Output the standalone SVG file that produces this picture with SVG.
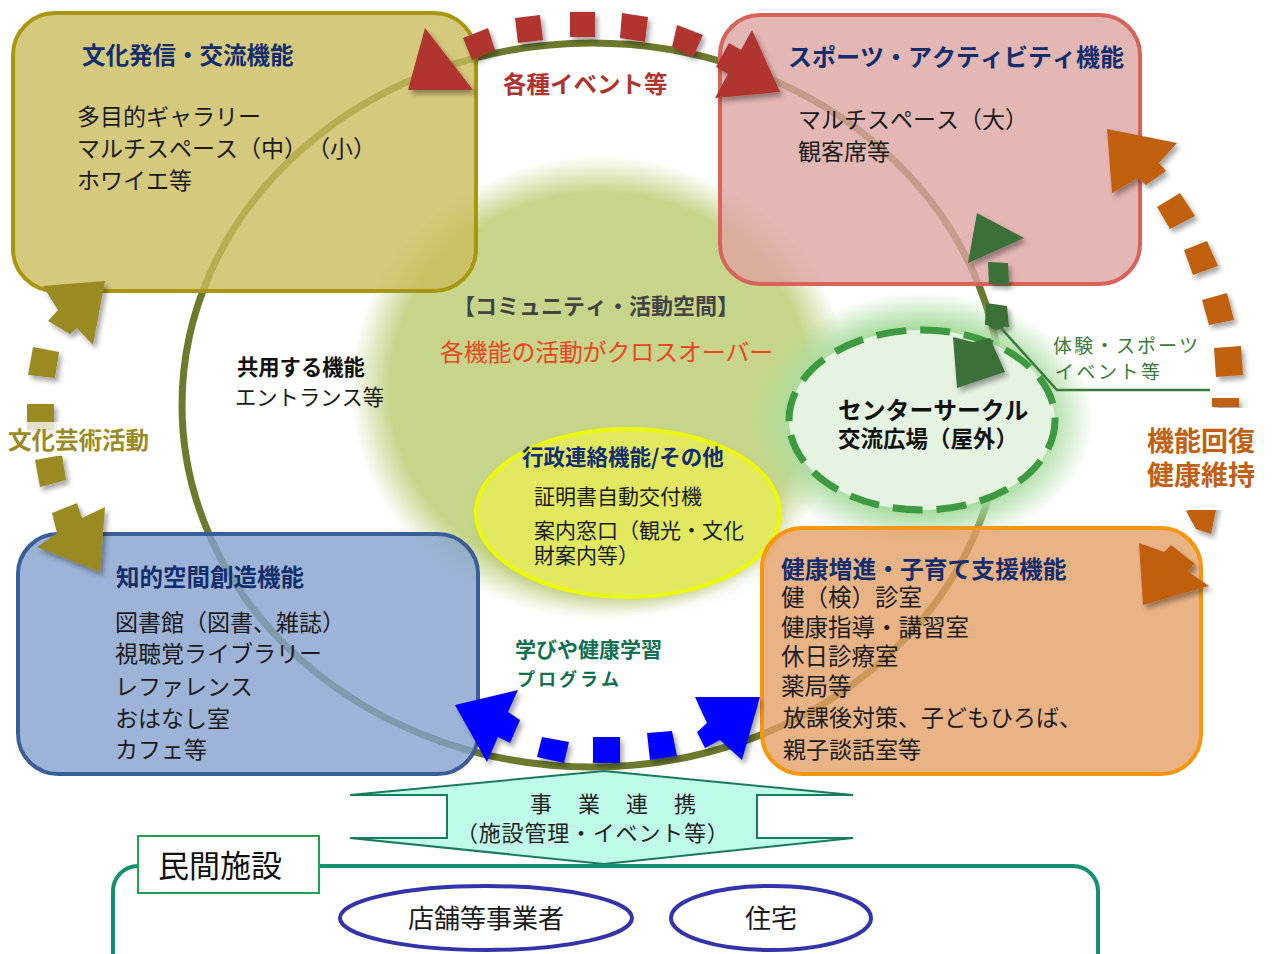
<svg xmlns="http://www.w3.org/2000/svg" width="1273" height="954" viewBox="0 0 1273 954">
<defs>
<radialGradient id="gGlow" cx="0.5" cy="0.5" r="0.5">
<stop offset="0" stop-color="#c6d589"/>
<stop offset="0.84" stop-color="#c6d589"/>
<stop offset="1" stop-color="#c6d589" stop-opacity="0"/>
</radialGradient>
<radialGradient id="cGlow" cx="0.5" cy="0.5" r="0.5">
<stop offset="0" stop-color="#a9dca0"/>
<stop offset="0.72" stop-color="#a9dca0"/>
<stop offset="1" stop-color="#a9dca0" stop-opacity="0"/>
</radialGradient>
<filter id="sh" x="-30%" y="-30%" width="170%" height="170%">
<feDropShadow dx="3" dy="4" stdDeviation="2.5" flood-color="#000" flood-opacity="0.35"/>
</filter>
<filter id="blur8" x="-30%" y="-30%" width="160%" height="160%">
<feGaussianBlur stdDeviation="8"/>
</filter>
<style>
.t{font-family:'Noto Sans CJK JP','Noto Sans CJK SC',sans-serif;text-spacing-trim:space-all;font-kerning:none}
.b{font-weight:bold}
.box{stroke-width:4}
</style>
</defs>
<rect width="1273" height="954" fill="#ffffff"/>
<g font-size="23" fill="#1a1a1a">

<!-- background glows -->
<g id="community-space">
<ellipse cx="600" cy="388" rx="250" ry="232" fill="url(#gGlow)"/>
</g>

<!-- main ring connector -->
<g id="connectors">
<ellipse cx="592" cy="405" rx="410" ry="362" fill="none" stroke="#6b7a2c" stroke-width="7"/>
</g>

<!-- yellow admin ellipse -->
<g id="admin">
<ellipse cx="630" cy="522" rx="150" ry="80" fill="#9fb55a" opacity="0.5" filter="url(#blur8)"/>
<ellipse cx="628" cy="513" rx="152" ry="84" fill="#e1e961" stroke="#ecf80a" stroke-width="4"/>
<text class="t b" x="522" y="465" font-size="21.5" fill="#102d6e">行政連絡機能/その他</text>
<text class="t" x="534" y="504" font-size="21">証明書自動交付機</text>
<text class="t" x="534" y="538" font-size="21">案内窓口（観光・文化</text>
<text class="t" x="534" y="563" font-size="21">財案内等）</text>
</g>

<!-- center circle -->
<g id="center-circle">
<ellipse cx="922" cy="420" rx="172" ry="128" fill="url(#cGlow)"/>
<ellipse cx="922" cy="420" rx="133" ry="90" fill="#eef8ec" fill-opacity="0.85" stroke="#3d9a40" stroke-width="7" stroke-dasharray="30 14"/>
<text class="t b" x="838" y="419" font-size="23.8" fill="#111">センターサークル</text>
<text class="t b" x="838" y="447" font-size="22.5" fill="#111">交流広場（屋外）</text>
</g>

<!-- boxes -->
<g id="culture">
<rect class="box" x="13" y="13" width="463" height="278" rx="42" fill="#c9bb5b" fill-opacity="0.8" stroke="#a8960e"/>
<text class="t b" x="82" y="64" font-size="23.5" fill="#102d6e">文化発信・交流機能</text>
<text class="t" x="77" y="125">多目的ギャラリー</text>
<text class="t" x="77" y="157">マルチスペース（中）（小）</text>
<text class="t" x="77" y="189">ホワイエ等</text>
</g>
<g id="sports">
<rect class="box" x="720" y="15" width="420" height="269" rx="40" fill="#dda4a1" fill-opacity="0.8" stroke="#d8625c"/>
<text class="t b" x="788" y="66" font-size="24" fill="#102d6e">スポーツ・アクティビティ機能</text>
<text class="t" x="798" y="128">マルチスペース（大）</text>
<text class="t" x="798" y="160">観客席等</text>
</g>
<g id="knowledge">
<rect class="box" x="18" y="534" width="460" height="240" rx="40" fill="#84a1ce" fill-opacity="0.8" stroke="#3a5f98"/>
<text class="t b" x="116" y="586" font-size="23.5" fill="#102d6e">知的空間創造機能</text>
<text class="t" x="115" y="631">図書館（図書、雑誌）</text>
<text class="t" x="115" y="662">視聴覚ライブラリー</text>
<text class="t" x="115" y="695">レファレンス</text>
<text class="t" x="115" y="727">おはなし室</text>
<text class="t" x="115" y="758">カフェ等</text>
</g>
<g id="health">
<rect class="box" x="762" y="528" width="439" height="246" rx="40" fill="#e5a067" fill-opacity="0.8" stroke="#f8960c"/>
<text class="t b" x="781" y="578" font-size="23.8" fill="#102d6e">健康増進・子育て支援機能</text>
<text class="t" x="781" y="606" font-size="23.5">健（検）診室</text>
<text class="t" x="781" y="636" font-size="23.5">健康指導・講習室</text>
<text class="t" x="781" y="665" font-size="23.5">休日診療室</text>
<text class="t" x="781" y="695" font-size="23.5">薬局等</text>
<text class="t" x="783" y="726">放課後対策、子どもひろば、</text>
<text class="t" x="783" y="758">親子談話室等</text>
</g>

<!-- centre labels -->
<g id="community-labels">
<text class="t b" x="453" y="314" font-size="22" fill="#444">【コミュニティ・活動空間】</text>
<text class="t" x="440" y="361" font-size="23.8" fill="#ee4422">各機能の活動がクロスオーバー</text>
</g>
<g id="shared">
<text class="t b" x="237" y="375" font-size="21.3" fill="#111">共用する機能</text>
<text class="t" x="235" y="405" font-size="21.3">エントランス等</text>
</g>

<!-- dashed block arrows -->
<g id="arrows" filter="url(#sh)">
<g fill="#9a8a22">
<polygon points="43,286 105,281 93,345 77,328 70,334 48,321 58,310"/>
<polygon points="33,347 59,352 55,378 28,375"/>
<polygon points="27,404 54,404 54,430 27,430"/>
<polygon points="35,460 62,455 66,480 40,487"/>
<polygon points="100,572 37,547 57,533 52,513 77,503 82,518 105,507"/>
</g>
<g fill="#b0342e">
<polygon points="425,28 473,90 408,90"/>
<polygon points="463,38 488,28 495,50 472,60"/>
<polygon points="515,18 540,15 543,40 518,43"/>
<polygon points="570,12 595,12 595,37 570,37"/>
<polygon points="622,13 648,17 645,42 620,38"/>
<polygon points="677,25 703,35 693,57 672,47"/>
<polygon points="780,92 752,30 741,50 729,43 716,67 728,74 715,98"/>
</g>
<g fill="#3a7038">
<polygon points="977,213 1024,238 968,263"/>
<polygon points="988,262 1008,263 1009,285 989,284"/>
<polygon points="986,303 1007,306 1009,327 985,325"/>
<circle cx="997" cy="320" r="10"/>
<polygon points="953,337 973,342 990,338 1005,372 957,388"/>
</g>
<g fill="#c06010">
<polygon points="1107,129 1177,143 1159,163 1166,171 1146,185 1138,178 1112,193"/>
<polygon points="1157,207 1180,193 1195,216 1170,229"/>
<polygon points="1184,250 1207,241 1218,266 1193,275"/>
<polygon points="1202,300 1227,293 1234,320 1209,325"/>
<polygon points="1214,348 1241,346 1243,375 1216,377"/>
<polygon points="1212,398 1239,398 1239,407 1212,407"/>
<polygon points="1186,511 1218,500 1211,534 1196,529"/>
<polygon points="1139,543 1164,552 1171,545 1195,564 1187,571 1209,586 1143,605"/>
</g>
<g fill="#0000ff">
<polygon points="455,705 518,690 508,712 520,720 510,743 498,737 487,762"/>
<polygon points="542,737 569,742 564,763 537,757"/>
<polygon points="593,737 620,737 620,763 593,763"/>
<polygon points="647,733 672,731 677,756 650,760"/>
<polygon points="760,697 742,760 720,740 705,748 697,732 707,723 695,697"/>
</g>
</g>

<!-- arrow labels -->
<g id="arrow-labels">
<text class="t b" x="503" y="93" font-size="23.5" fill="#b0342e">各種イベント等</text>
<rect x="8" y="422" width="146" height="34" fill="#ffffff" fill-opacity="0.75"/>
<text class="t b" x="8" y="449" font-size="23.5" fill="#9a8a22">文化芸術活動</text>
<rect x="1140" y="408" width="133" height="102" fill="#ffffff"/>
<text class="t b" x="1147" y="451" font-size="27" fill="#c06010">機能回復</text>
<text class="t b" x="1147" y="485" font-size="27" fill="#c06010">健康維持</text>
<polyline points="1000,327 1057,390 1210,390" fill="none" stroke="#3a7a3a" stroke-width="2.5"/>
<text class="t" x="1053" y="353" font-size="19" letter-spacing="2" fill="#3a7a3a">体験・スポーツ</text>
<text class="t" x="1055" y="379" font-size="19" letter-spacing="2.5" fill="#3a7a3a">イベント等</text>
<text class="t b" x="515" y="657" font-size="21" fill="#107050">学びや健康学習</text>
<text class="t b" x="517" y="686" font-size="18" letter-spacing="3" fill="#107050">プログラム</text>
</g>

<!-- business cooperation double arrow -->
<g id="cooperation">
<polygon points="604,771 853,795 757,795 757,838 853,838 604,864 350,838 447,838 447,795 350,795" fill="#b8fbe6" fill-opacity="0.92" stroke="#1a7a5e" stroke-width="2"/>
<text class="t" x="530" y="812" font-size="22" letter-spacing="2" fill="#222">事　業　連　携</text>
<text class="t" x="456" y="841" font-size="22" letter-spacing="0.8" fill="#222">（施設管理・イベント等）</text>
</g>

<!-- private facilities -->
<g id="private">
<rect x="113" y="866" width="985" height="120" rx="25" fill="none" stroke="#129070" stroke-width="4"/>
<rect x="138" y="836" width="181" height="57" fill="#ffffff" stroke="#20a050" stroke-width="2"/>
<text class="t" x="158" y="877" font-size="31" fill="#111">民間施設</text>
</g>
<g id="shops">
<ellipse cx="486" cy="918" rx="146" ry="32" fill="#ffffff" stroke="#3333aa" stroke-width="4"/>
<text class="t" x="486" y="928" font-size="26" text-anchor="middle">店舗等事業者</text>
</g>
<g id="housing">
<ellipse cx="771" cy="918" rx="100" ry="32" fill="#ffffff" stroke="#3333aa" stroke-width="4"/>
<text class="t" x="771" y="928" font-size="26" text-anchor="middle">住宅</text>
</g>
</g>
</svg>
